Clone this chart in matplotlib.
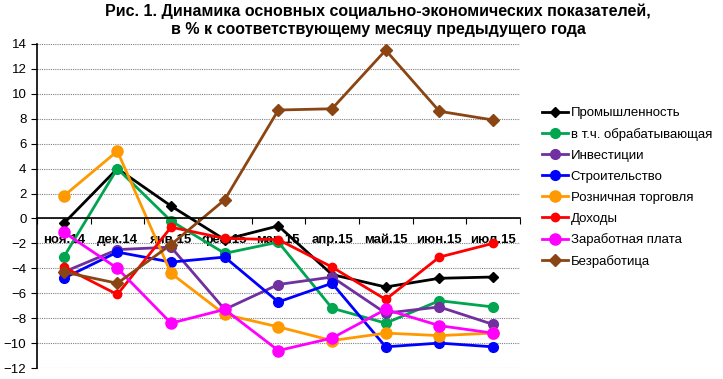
import matplotlib
matplotlib.use("Agg")
import matplotlib.pyplot as plt
import numpy as np

plt.rcParams["font.family"] = ["Liberation Sans", "DejaVu Sans"]

months = ["ноя.14", "дек.14", "янв.15", "фев.15", "мар.15",
          "апр.15", "май.15", "июн.15", "июл.15"]

industry = [-0.4, 4.0, 1.0, -1.7, -0.6, -4.5, -5.5, -4.8, -4.7]
manufacturing = [-3.1, 4.0, -0.2, -2.8, -1.9, -7.2, -8.4, -6.6, -7.1]
investment = [-4.3, -2.5, -2.3, -7.3, -5.3, -4.7, -7.6, -7.1, -8.5]
construction = [-4.8, -2.7, -3.5, -3.1, -6.7, -5.2, -10.3, -10.0, -10.3]
retail = [1.8, 5.4, -4.4, -7.7, -8.7, -9.8, -9.2, -9.4, -9.2]
income = [-3.9, -6.1, -0.7, -1.6, -1.7, -3.9, -6.5, -3.1, -2.0]
wages = [-1.1, -4.0, -8.4, -7.3, -10.6, -9.6, -7.3, -8.6, -9.2]
unemployment = [-4.3, -5.2, -2.1, 1.5, 8.7, 8.8, 13.5, 8.6, 7.9]

series = [
    ("Промышленность", industry, "#000000", "D", 5),
    ("в т.ч. обрабатывающая", manufacturing, "#00a550", "o", 7),
    ("Инвестиции", investment, "#7030a0", "o", 7),
    ("Строительство", construction, "#0000ff", "o", 7),
    ("Розничная торговля", retail, "#ff9900", "o", 8),
    ("Доходы", income, "#ff0000", "o", 6),
    ("Заработная плата", wages, "#ff00ff", "o", 8),
    ("Безработица", unemployment, "#8b4513", "D", 6),
]

fig = plt.figure(figsize=(7.23, 3.79), dpi=100)
ax = fig.add_axes([0.051, 0.029, 0.668, 0.855])

x = np.arange(len(months))
for name, vals, color, marker, ms in series:
    ax.plot(x, vals, color=color, lw=2, marker=marker, ms=ms, label=name)

ax.set_xlim(-0.5, len(months) - 0.5)
ax.set_ylim(-12, 14)
ax.set_yticks(np.arange(-12, 15, 2))
ax.yaxis.grid(True, color="#808080", linestyle=(0, (1, 1)), lw=0.8)
ax.set_axisbelow(True)

ax.spines["top"].set_visible(False)
ax.spines["right"].set_visible(False)
ax.spines["bottom"].set_position(("data", 0))
ax.spines["left"].set_linewidth(1.2)
ax.spines["bottom"].set_linewidth(1.2)

# category labels between the boundary ticks
ax.set_xticks(np.arange(-0.5, len(months), 1))
ax.set_xticklabels([])
ax.set_xticks(x, minor=True)
ax.set_xticklabels(months, minor=True, fontweight="bold", fontsize=9.5)
ax.tick_params(axis="x", which="major", direction="out", length=4)
ax.tick_params(axis="x", which="minor", length=0, pad=11)
ax.tick_params(axis="y", labelsize=9.5, length=4)

fig.suptitle("Рис. 1. Динамика основных социально-экономических показателей,\n"
             "в % к соответствующему месяцу предыдущего года",
             x=0.523, y=0.99, fontsize=11.5, fontweight="bold", linespacing=1.2)

ax.legend(loc="center left", bbox_to_anchor=(0.742, 0.505), bbox_transform=fig.transFigure,
          frameon=False, fontsize=9.5, handlelength=2.0, handletextpad=0.2,
          labelspacing=0.66, borderaxespad=0)

fig.savefig("out.png", dpi=100)
